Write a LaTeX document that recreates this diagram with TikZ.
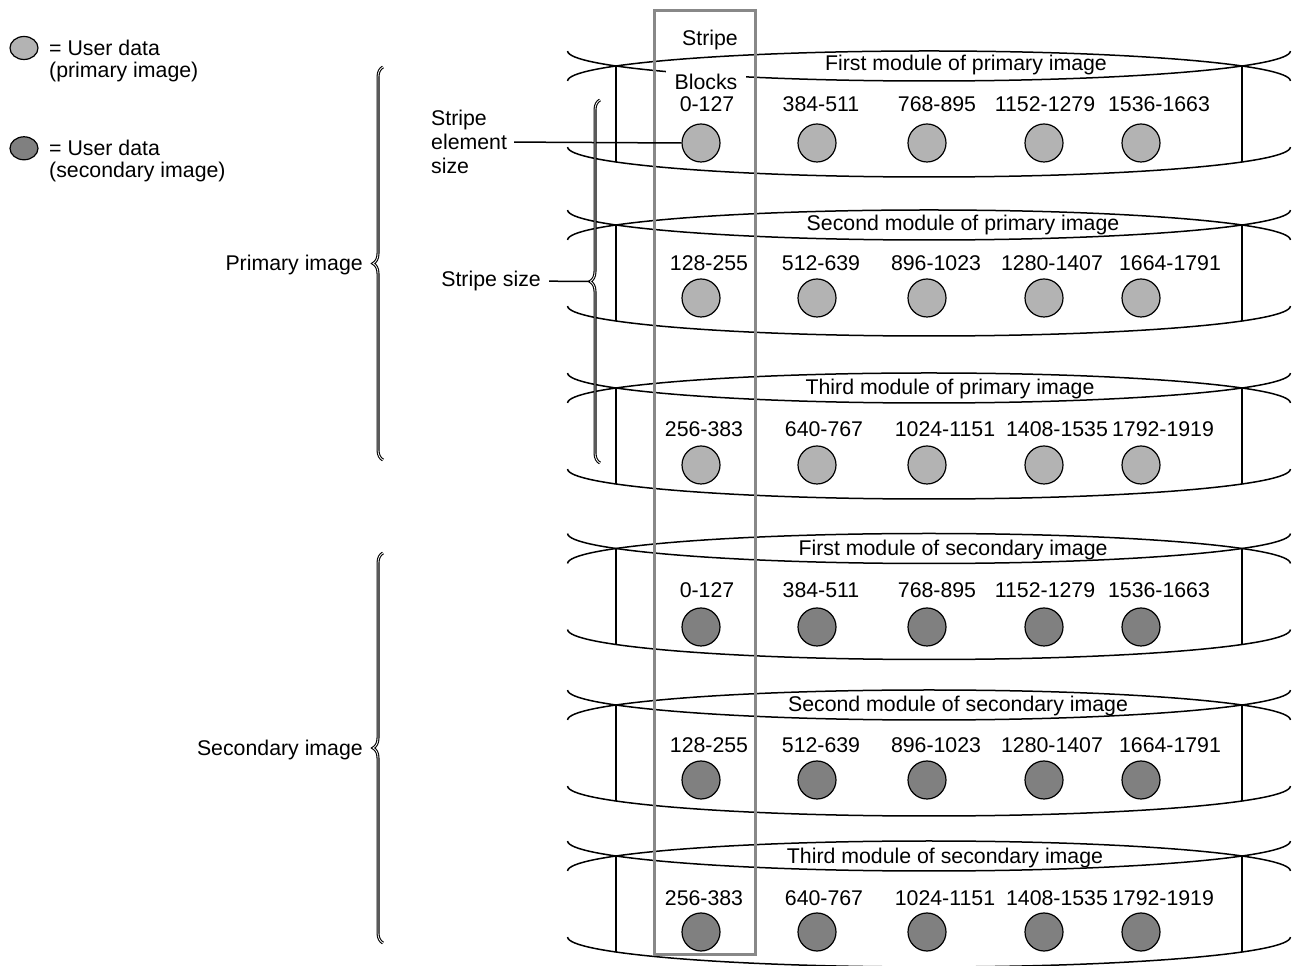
\documentclass[tikz,border=0pt]{standalone}
\usepackage{fontspec}
\setsansfont{Liberation Sans}
\usetikzlibrary{decorations.pathreplacing,shapes.geometric}
\definecolor{pcFFFFFF}{HTML}{FFFFFF}
\definecolor{pc000000}{HTML}{000000}
\definecolor{pcB3B3B3}{HTML}{B3B3B3}
\definecolor{pc808080}{HTML}{808080}
\definecolor{pc888888}{HTML}{888888}

\begin{document}
\begin{tikzpicture}[
  txt/.style={inner sep=0, text=pc000000, font=\sffamily\fontsize{21.3bp}{24bp}\selectfont},
  outline/.style={line width=1.5bp, color=pc000000},
  blockdot/.style={circle, minimum size=38bp, inner sep=0, draw=pc000000, line width=1.2bp},
  keydot/.style={ellipse, minimum width=28bp, minimum height=23bp, inner sep=0, draw=pc000000, line width=1.2bp},
  curly/.style={decorate, decoration={brace, amplitude=10bp, aspect=0.5}, draw=pc000000, double=pcFFFFFF, double distance=0.8bp, line width=1.1bp}
]
\path[use as bounding box] (0bp,0bp) rectangle (1298bp,966bp);
\path[fill=pcFFFFFF] (0bp,0bp) rectangle (1298bp,966bp);
\foreach \y in {900,741,578,417.5,261,110} {
  \draw[outline] (567.6bp,\y bp-15bp) arc[start angle=180, end angle=0, x radius=361.4bp, y radius=30bp];
  \draw[outline] (567.6bp,\y bp+15bp) arc[start angle=180, end angle=360, x radius=361.4bp, y radius=30bp];
  \draw[outline] (567.6bp,\y bp-81bp) arc[start angle=180, end angle=360, x radius=361.4bp, y radius=30bp];
  \draw[outline] (616bp,\y bp) -- (616bp,\y bp-96bp);
  \draw[outline] (1242bp,\y bp) -- (1242bp,\y bp-96bp);
}
\node[txt, anchor=base] (t1) at (966bp,895.3bp) {First module of primary image};
\node[txt, anchor=base] (t2) at (963bp,735.3bp) {Second module of primary image};
\node[txt, anchor=base] (t3) at (950bp,571.3bp) {Third module of primary image};
\node[txt, anchor=base] (t4) at (953bp,410.3bp) {First module of secondary image};
\node[txt, anchor=base] (t5) at (958bp,254.3bp) {Second module of secondary image};
\node[txt, anchor=base] (t6) at (945bp,102.3bp) {Third module of secondary image};
\foreach \cy/\m/\col in {823/1/pcB3B3B3, 668/2/pcB3B3B3, 501/3/pcB3B3B3, 339/4/pc808080, 186/5/pc808080, 34/6/pc808080}
  \foreach \cx/\k in {701/1, 817/2, 927/3, 1044/4, 1141/5}
    \node[blockdot, fill=\col] (c\m\k) at (\cx bp,\cy bp) {};
\foreach \ly/\m in {854.3/1, 368.3/4}
  \foreach \t/\lx/\k in {0-127/707/1, 384-511/821/2, 768-895/937/3, 1152-1279/1045/4, 1536-1663/1159/5}
    \node[txt, anchor=base] (l\m\k) at (\lx bp,\ly bp) {\t};
\foreach \ly/\m in {695.3/2, 213.3/5}
  \foreach \t/\lx/\k in {128-255/709/1, 512-639/821/2, 896-1023/936/3, 1280-1407/1052/4, 1664-1791/1170/5}
    \node[txt, anchor=base] (l\m\k) at (\lx bp,\ly bp) {\t};
\foreach \ly/\m in {529.3/3, 60.3/6}
  \foreach \t/\lx/\k in {256-383/704/1, 640-767/824/2, 1024-1151/945/3, 1408-1535/1057/4, 1792-1919/1163/5}
    \node[txt, anchor=base] (l\m\k) at (\lx bp,\ly bp) {\t};
\draw[line width=3bp, color=pc888888] (654bp,11bp) rectangle (755bp,955bp);
\node[txt, anchor=base] (stripe) at (710bp,920.3bp) {Stripe};
\node[txt, anchor=base, fill=pcFFFFFF, inner xsep=9bp, inner ysep=1bp, text height=19bp] (blocks) at (706bp,876.3bp) {Blocks};
\node[keydot, fill=pcB3B3B3] (kp) at (24bp,918bp) {};
\node[txt, anchor=base west, align=left, font=\sffamily\fontsize{21.3bp}{22bp}\selectfont] (kpt) at (49bp,888.3bp) {= User data\\(primary image)};
\node[keydot, fill=pc808080] (ks) at (24bp,817.7bp) {};
\node[txt, anchor=base west, align=left, font=\sffamily\fontsize{21.3bp}{22bp}\selectfont] (kst) at (49bp,788.3bp) {= User data\\(secondary image)};
\node[txt, anchor=base west, align=left, inner xsep=7bp] (sesize) at (424bp,792.3bp) {Stripe\\element\\size};
\draw[outline] (sesize.east) -- (c11.west);
\draw[curly] (383bp,506bp) -- (383bp,899bp);
\draw[curly] (383bp,23bp) -- (383bp,413bp);
\draw[curly] (600bp,503bp) -- (600bp,866bp);
\coordinate (sstip) at (590bp,684.5bp);
\node[txt, anchor=base east, inner xsep=8bp] (ssize) at (549bp,679.3bp) {Stripe size};
\draw[outline] (ssize.east) -- (sstip);
\node[txt, anchor=base east] (pimg) at (363bp,695.3bp) {Primary image};
\node[txt, anchor=base east] (simg) at (363bp,210.3bp) {Secondary image};
\end{tikzpicture}
\end{document}
